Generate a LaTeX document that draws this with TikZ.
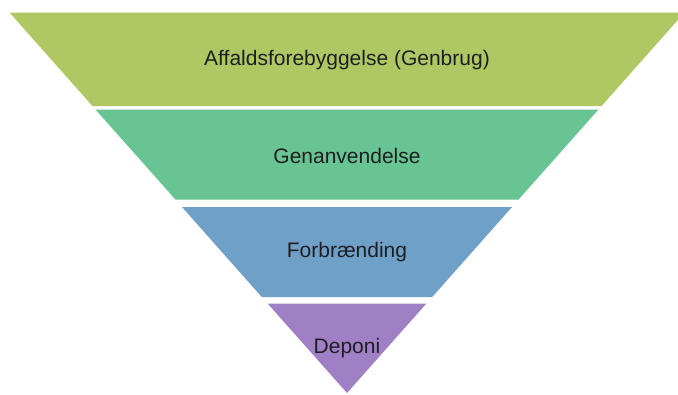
\documentclass[tikz,border=0pt]{standalone}
\usepackage{fontspec}
\setmainfont{Liberation Sans}
\definecolor{bandA}{RGB}{176,200,100}
\definecolor{bandB}{RGB}{104,196,146}
\definecolor{bandC}{RGB}{110,160,200}
\definecolor{bandD}{RGB}{160,128,196}
\definecolor{labeltext}{RGB}{30,30,35}
\tikzset{bandlabel/.style={text=labeltext,font=\fontsize{21}{25}\selectfont,inner sep=0pt,anchor=center}}
\begin{document}
\begin{tikzpicture}[x=1pt,y=-1pt]
\useasboundingbox (0,0) rectangle (678,394);
\fill[white] (0,0) rectangle (678,394);
\begin{scope}
\clip (0,0) rectangle (678,394);
\fill[bandA] (9.5,12.5) -- (684.5,12.5) -- (601.6,106) -- (92.4,106) -- cycle;
\fill[bandB] (95.5,109.5) -- (598.5,109.5) -- (518.6,199.5) -- (175.4,199.5) -- cycle;
\fill[bandC] (182.0,207) -- (512.0,207) -- (432.2,297) -- (261.8,297) -- cycle;
\fill[bandD] (267.6,303.5) -- (426.4,303.5) -- (347,393) -- cycle;
\end{scope}
\node[bandlabel] (lA) at (347,60) {Affaldsforebyggelse (Genbrug)};
\node[bandlabel] (lB) at (347,156) {Genanvendelse};
\node[bandlabel] (lC) at (347,252) {Forbrænding};
\node[bandlabel] (lD) at (347,348) {Deponi};
\end{tikzpicture}
\end{document}
